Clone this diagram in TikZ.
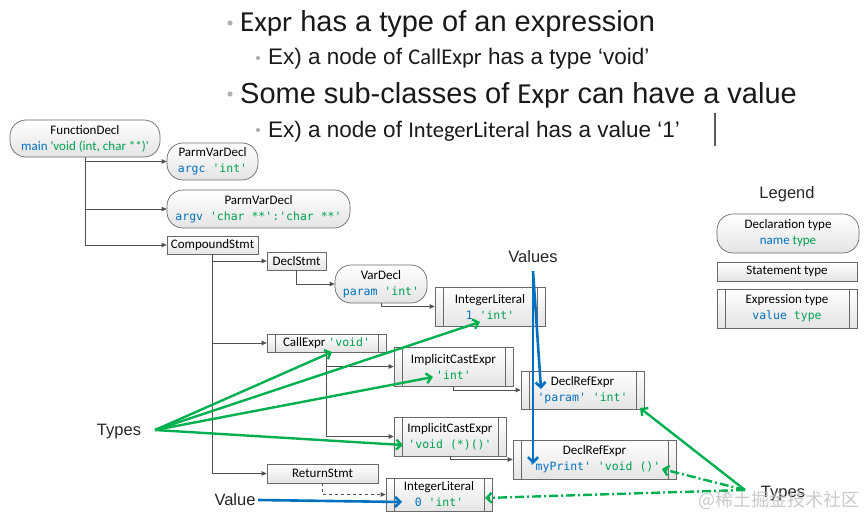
\documentclass[tikz,border=0pt]{standalone}
\usepackage{fontspec}
\setmainfont{Liberation Sans}
\newfontfamily\cfont{Carlito}
\newfontfamily\mfont{DejaVu Sans Mono}
\newfontfamily\cjkfont{Noto Sans CJK SC}
\usetikzlibrary{arrows.meta}
\definecolor{tblue}{RGB}{0,112,192}
\definecolor{tgreen}{RGB}{0,160,80}
\definecolor{agreen}{RGB}{0,176,80}
\definecolor{ablue}{RGB}{0,112,192}
\definecolor{nodebot}{RGB}{228,228,228}
\definecolor{nodeline}{RGB}{105,105,105}
\definecolor{conncol}{RGB}{80,80,80}
\newcommand\qq{\textquotesingle}
\newcommand\mono[1]{{\mfont\fontsize{11.5}{16}\selectfont #1}}
\tikzset{
  base/.style={draw=nodeline, line width=0.7pt, top color=white, bottom color=nodebot,
    inner sep=0pt, align=center, font=\cfont\fontsize{13}{16}\selectfont},
  decl/.style={base, rounded corners=16pt},
  stmt/.style={base},
  expr/.style={base, path picture={
      \draw[nodeline, line width=0.7pt] ([xshift=8pt]path picture bounding box.north west) -- ([xshift=8pt]path picture bounding box.south west);
      \draw[nodeline, line width=0.7pt] ([xshift=-8pt]path picture bounding box.north east) -- ([xshift=-8pt]path picture bounding box.south east);}},
  conn/.style={draw=conncol, line width=0.7pt, -{Triangle[length=5pt,width=4.5pt]}},
  garrow/.style={draw=agreen, line width=2.4pt, -{Straight Barb[length=5pt,width=10pt]}},
  barrow/.style={draw=ablue, line width=2.6pt, -{Straight Barb[length=5pt,width=10pt]}},
  gdash/.style={garrow, dash pattern=on 9pt off 3pt on 2pt off 3pt},
  lbl/.style={inner sep=0pt, font=\fontsize{16.5}{18}\selectfont, text=black!85},
  ttl/.style={anchor=base west, inner sep=0pt, text=black!90},
}
\begin{document}
\begin{tikzpicture}[x=1pt,y=-1pt]
\useasboundingbox (0,0) rectangle (865,519);
% title bullets
\fill[gray!60] (230,23) circle (2.6);
\fill[gray!60] (258,58) circle (2.1);
\fill[gray!60] (230,94) circle (2.6);
\fill[gray!60] (258,130) circle (2.1);
\node[ttl, font=\fontsize{29}{32}\selectfont] (t1) at (240,32) {{\cfont Expr} has a type of an expression};
\node[ttl, font=\fontsize{22.5}{26}\selectfont] (t2) at (268,65) {Ex) a node of {\cfont CallExpr} has a type ‘void’};
\node[ttl, font=\fontsize{29}{32}\selectfont] (t3) at (240,103) {Some sub-classes of {\cfont Expr} can have a value};
\node[ttl, font=\fontsize{22.5}{26}\selectfont] (t4) at (268,137) {Ex) a node of {\cfont IntegerLiteral} has a value ‘1’};
\draw[line width=1.2pt, gray!70!black] (715,113) -- (715,146);

% AST nodes
\node[decl, minimum width=150pt, minimum height=37pt] (fd) at (85,138.5)
  {FunctionDecl\\\textcolor{tblue}{main} \textcolor{tgreen}{\qq void (int, char **)\qq}};
\node[decl, minimum width=91pt, minimum height=37pt] (p1) at (212.5,161.5)
  {ParmVarDecl\\\mono{\textcolor{tblue}{argc} \textcolor{tgreen}{\qq int\qq}}};
\node[decl, minimum width=183pt, minimum height=38pt] (p2) at (258.5,209)
  {ParmVarDecl\\\mono{\textcolor{tblue}{argv} \textcolor{tgreen}{\qq char **\qq:\qq char **\qq}}};
\node[stmt, minimum width=91pt, minimum height=18pt] (cs) at (212.5,245) {CompoundStmt};
\node[stmt, minimum width=59pt, minimum height=18pt] (ds) at (296.5,261) {DeclStmt};
\node[decl, minimum width=92pt, minimum height=38pt] (vd) at (381,284)
  {VarDecl\\\mono{\textcolor{tblue}{param} \textcolor{tgreen}{\qq int\qq}}};
\node[expr, minimum width=110pt, minimum height=39pt] (il1) at (490,306.5)
  {IntegerLiteral\\\mono{\textcolor{tblue}{1} \textcolor{tgreen}{\qq int\qq}}};
\node[expr, minimum width=119pt, minimum height=18pt] (ce) at (326.5,343)
  {CallExpr \mono{\textcolor{tgreen}{\qq void\qq}}};
\node[expr, minimum width=119pt, minimum height=39pt] (ic1) at (453.5,366.5)
  {ImplicitCastExpr\\\mono{\textcolor{tgreen}{\qq int\qq}}};
\node[expr, minimum width=123pt, minimum height=38pt] (dr1) at (582.5,390)
  {DeclRefExpr\\\mono{\textcolor{tblue}{\qq param\qq} \textcolor{tgreen}{\qq int\qq}}};
\node[expr, minimum width=112pt, minimum height=39pt] (ic2) at (450,436.5)
  {ImplicitCastExpr\\\mono{\textcolor{tgreen}{\qq void (*)()\qq}}};
\node[expr, minimum width=163pt, minimum height=39pt] (dr2) at (594.5,459.5)
  {DeclRefExpr\\\mono{\textcolor{tblue}{\qq myPrint\qq} \textcolor{tgreen}{\qq void ()\qq}}};
\node[stmt, minimum width=111pt, minimum height=19pt] (rs) at (322.5,473.5) {ReturnStmt};
\node[expr, minimum width=106pt, minimum height=33pt] (il2) at (439,494.5)
  {IntegerLiteral\\\mono{\textcolor{tblue}{0} \textcolor{tgreen}{\qq int\qq}}};

% tree connectors
\draw[conn] (fd.south) |- (p1.west);
\draw[conn] (fd.south) |- (p2.west);
\draw[conn] (fd.south) |- (cs.west);
\draw[conn] (cs.south) |- (ds.west);
\draw[conn] (cs.south) |- (ce.west);
\draw[conn] (cs.south) |- (rs.west);
\draw[conn] (ds.south) |- (vd.west);
\draw[conn] (vd.south) |- (il1.west);
\draw[conn] (ce.south) |- (ic1.west);
\draw[conn] (ce.south) |- (ic2.west);
\draw[conn] (ic1.south) |- (dr1.west);
\draw[conn] (ic2.south) |- (dr2.west);
\draw[conn, dashed] (rs.south) |- (il2.west);

% legend
\node[lbl] (legend) at (787,194) {Legend};
\node[decl, minimum width=142pt, minimum height=39pt] (ld) at (788,233.5)
  {Declaration type\\\textcolor{tblue}{name} \textcolor{tgreen}{type}};
\node[stmt, minimum width=140pt, minimum height=19pt] (ls) at (787,271.5) {Statement type};
\node[expr, minimum width=140pt, minimum height=39pt] (le) at (787,308.5)
  {Expression type\\\mono{\textcolor{tblue}{value} \textcolor{tgreen}{type}}};

% labels
\node[lbl] (values) at (533,257) {Values};
\node[lbl] (types) at (119,432) {Types};
\node[lbl] (value) at (235,500) {Value};
\node[lbl] (types2) at (783,494) {Types};

% coordinates for arrow ends
\coordinate (vs) at (533,271);
\coordinate (vparam) at (541,389);
\coordinate (vmy) at (533,464);
\coordinate (ts) at (155,430);
\coordinate (tce) at (332,352);
\coordinate (til1) at (480,322);
\coordinate (tic1) at (433,377);
\coordinate (tic2) at (403,445);
\coordinate (t2s) at (745,490);
\coordinate (tdr1) at (640,408);
\coordinate (tdr2) at (662,469);
\coordinate (til2) at (485,498);
\coordinate (vls) at (258,500);
\coordinate (vil2) at (402,502);

\draw[barrow] (vs) -- (vparam);
\draw[barrow] (vs) -- (vmy);
\draw[barrow] (vls) -- (vil2);
\draw[garrow] (ts) -- (tce);
\draw[garrow] (ts) -- (til1);
\draw[garrow] (ts) -- (tic1);
\draw[garrow] (ts) -- (tic2);
\draw[garrow] (t2s) -- (tdr1);
\draw[gdash] (t2s) -- (tdr2);
\draw[gdash] (t2s) -- (til2);

% watermark
\node[inner sep=0pt, font=\cjkfont\fontsize{18}{20}\selectfont, text=gray!50, opacity=0.85] (wm) at (779,500) {@稀土掘金技术社区};
\end{tikzpicture}
\end{document}
